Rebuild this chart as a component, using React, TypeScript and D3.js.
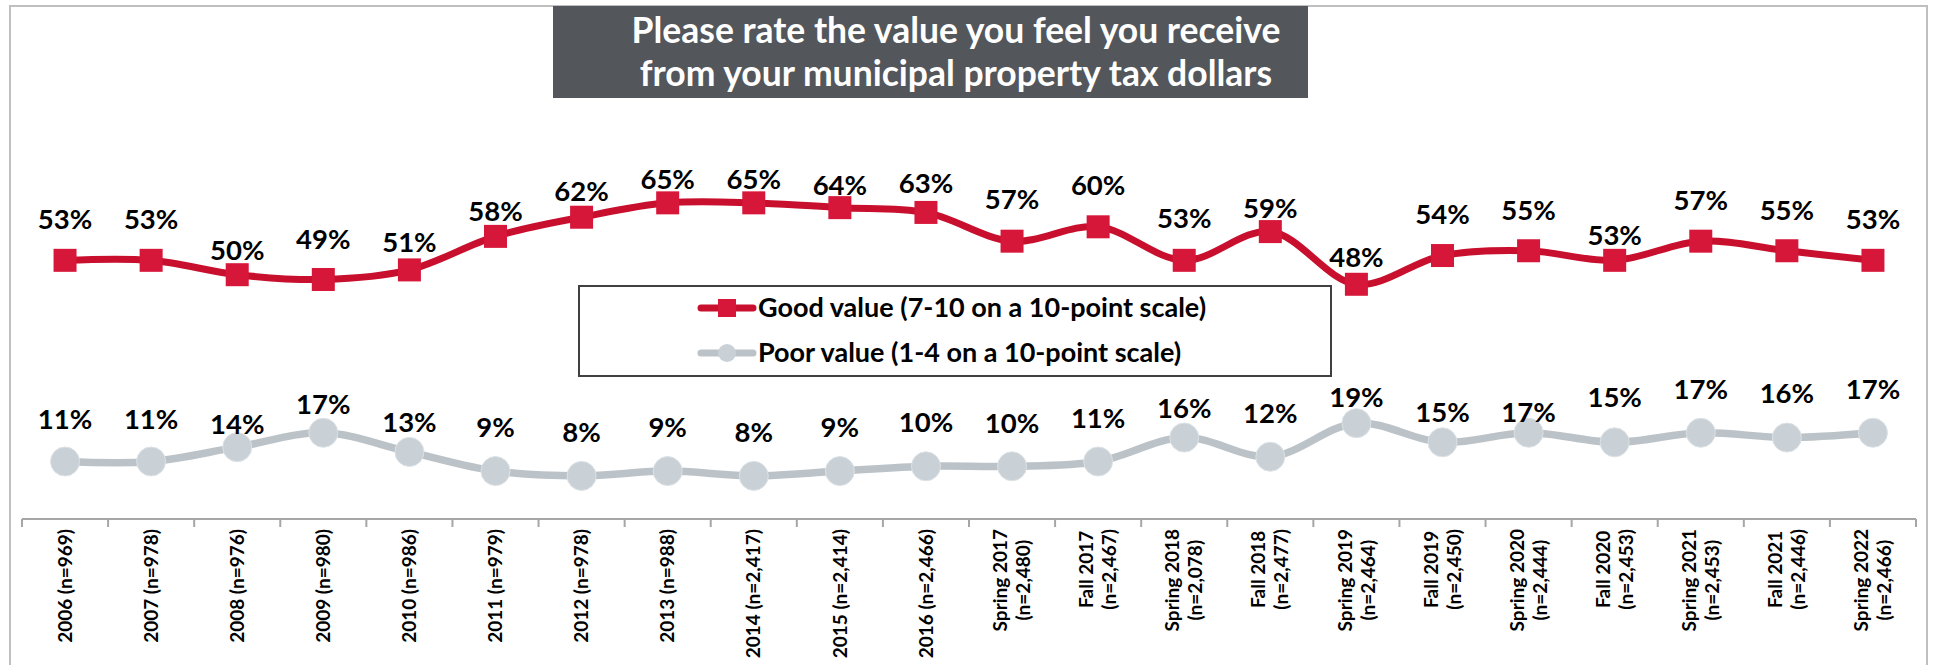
import React, { useEffect, useRef } from "react";
import * as d3 from "d3";

const titleLines = [
  "Please rate the value you feel you receive",
  "from your municipal property tax dollars",
];

const categories = [
  "2006 (n=969)",
  "2007 (n=978)",
  "2008 (n=976)",
  "2009 (n=980)",
  "2010 (n=986)",
  "2011 (n=979)",
  "2012 (n=978)",
  "2013 (n=988)",
  "2014 (n=2,417)",
  "2015 (n=2,414)",
  "2016 (n=2,466)",
  "Spring 2017\n(n=2,480)",
  "Fall 2017\n(n=2,467)",
  "Spring 2018\n(n=2,078)",
  "Fall 2018\n(n=2,477)",
  "Spring 2019\n(n=2,464)",
  "Fall 2019\n(n=2,450)",
  "Spring 2020\n(n=2,444)",
  "Fall 2020\n(n=2,453)",
  "Spring 2021\n(n=2,453)",
  "Fall 2021\n(n=2,446)",
  "Spring 2022\n(n=2,466)",
];

const goodValues = [53, 53, 50, 49, 51, 58, 62, 65, 65, 64, 63, 57, 60, 53, 59, 48, 54, 55, 53, 57, 55, 53];
const poorValues = [11, 11, 14, 17, 13, 9, 8, 9, 8, 9, 10, 10, 11, 16, 12, 19, 15, 17, 15, 17, 16, 17];

// label nudges (baseline offset from the point, px)
const goodLabelDy = [-31, -31, -15, -30, -18, -15, -16, -14, -14, -13, -19, -32, -32, -32, -14, -17, -32, -31, -15, -31, -31, -31];
const poorLabelDy = [-33, -33, -13, -19, -20, -34, -34, -34, -34, -34, -34, -33, -34, -20, -34, -16, -20, -11, -35, -34, -35, -34];

const seriesNames = [
  "Good value (7-10 on a 10-point scale)",
  "Poor value (1-4 on a 10-point scale)",
];

const W = 1935;
const H = 665;
const FONT = "Lato, 'Open Sans', sans-serif";

export default function App() {
  const ref = useRef<SVGSVGElement | null>(null);

  useEffect(() => {
    const svg = d3.select(ref.current);
    svg.selectAll("*").remove();

    const x = d3.scaleBand<string>().domain(categories).range([22, 1916]).padding(0);
    const cx = (i: number) => (x(categories[i]) as number) + x.bandwidth() / 2;
    const y = d3.scaleLinear().domain([0, 100]).range([514.2, 35.2]);
    const axisY = 519;

    // frame
    svg
      .append("path")
      .attr("d", `M10,${H + 5} L10,6 L1927,6 L1927,${H + 5}`)
      .attr("fill", "none")
      .attr("stroke", "#BFBFBF")
      .attr("stroke-width", 2);

    // title box
    svg.append("rect").attr("x", 553).attr("y", 6).attr("width", 755).attr("height", 92).attr("fill", "#53565B");
    const tt = svg
      .append("text")
      .attr("text-anchor", "middle")
      .attr("fill", "#FFFFFF")
      .attr("font-family", FONT)
      .attr("font-weight", 700)
      .attr("font-size", 35.5);
    titleLines.forEach((t, i) => {
      tt.append("tspan").attr("x", 956).attr("y", 43 + i * 43).text(t);
    });

    // x axis
    svg
      .append("line")
      .attr("x1", 22)
      .attr("x2", 1916)
      .attr("y1", axisY)
      .attr("y2", axisY)
      .attr("stroke", "#A6A6A6")
      .attr("stroke-width", 2);
    const tickXs = categories.map((c) => x(c) as number).concat([1916]);
    svg
      .selectAll("line.tick")
      .data(tickXs)
      .join("line")
      .attr("class", "tick")
      .attr("x1", (d) => d)
      .attr("x2", (d) => d)
      .attr("y1", axisY)
      .attr("y2", axisY + 8)
      .attr("stroke", "#A6A6A6")
      .attr("stroke-width", 2);

    // category labels (rotated)
    const fs = 19;
    const lh = 23;
    categories.forEach((c, i) => {
      const lines = c.split("\n");
      const g = svg.append("g");
      const t = g
        .append("text")
        .attr("text-anchor", "middle")
        .attr("font-family", FONT)
        .attr("font-weight", 700)
        .attr("font-size", fs)
        .attr("fill", "#000");
      const n = lines.length;
      const spans = lines.map((l, k) =>
        t
          .append("tspan")
          .attr("x", 0)
          .attr("y", (k - (n - 1) / 2) * lh + fs * 0.35)
          .text(l)
      );
      const maxLen = d3.max(spans.map((s) => (s.node() as SVGTextContentElement).getComputedTextLength())) || 0;
      g.attr("transform", `translate(${cx(i)},${529 + maxLen / 2}) rotate(-90)`);
    });

    // lines
    const line = d3
      .line<number>()
      .x((_, i) => cx(i))
      .y((d) => y(d))
      .curve(d3.curveCatmullRom.alpha(0.5));

    svg
      .append("path")
      .attr("d", line(poorValues) as string)
      .attr("fill", "none")
      .attr("stroke", "#BCC3C8")
      .attr("stroke-width", 7.5)
      .attr("stroke-linecap", "round");
    svg
      .append("path")
      .attr("d", line(goodValues) as string)
      .attr("fill", "none")
      .attr("stroke", "#C8102E")
      .attr("stroke-width", 7)
      .attr("stroke-linecap", "round");

    // markers
    svg
      .selectAll("circle.poor")
      .data(poorValues)
      .join("circle")
      .attr("class", "poor")
      .attr("cx", (_, i) => cx(i))
      .attr("cy", (d) => y(d))
      .attr("r", 14.5)
      .attr("fill", "#C9D1D7")
      .attr("stroke", "#DCE2E6")
      .attr("stroke-width", 1);
    const sq = 23;
    svg
      .selectAll("rect.good")
      .data(goodValues)
      .join("rect")
      .attr("class", "good")
      .attr("x", (_, i) => cx(i) - sq / 2)
      .attr("y", (d) => y(d) - sq / 2)
      .attr("width", sq)
      .attr("height", sq)
      .attr("fill", "#D7173A");

    // data labels
    const lbl = (vals: number[], dys: number[], cls: string) =>
      svg
        .selectAll(`text.${cls}`)
        .data(vals)
        .join("text")
        .attr("class", cls)
        .attr("x", (_, i) => cx(i))
        .attr("y", (d, i) => y(d) + dys[i])
        .attr("text-anchor", "middle")
        .attr("font-family", FONT)
        .attr("font-weight", 700)
        .attr("font-size", 27.5)
        .attr("fill", "#000")
        .text((d) => `${d}%`);
    lbl(goodValues, goodLabelDy, "glbl");
    lbl(poorValues, poorLabelDy, "plbl");

    // legend
    const lg = svg.append("g");
    lg.append("rect")
      .attr("x", 579)
      .attr("y", 286)
      .attr("width", 752)
      .attr("height", 90)
      .attr("fill", "#FFFFFF")
      .attr("stroke", "#404040")
      .attr("stroke-width", 2);
    const rows = [308, 353];
    rows.forEach((ry, k) => {
      lg.append("line")
        .attr("x1", 701)
        .attr("x2", 753)
        .attr("y1", ry)
        .attr("y2", ry)
        .attr("stroke", k === 0 ? "#C8102E" : "#BCC3C8")
        .attr("stroke-width", 7)
        .attr("stroke-linecap", "round");
      if (k === 0) {
        lg.append("rect").attr("x", 727 - 9).attr("y", ry - 9).attr("width", 18).attr("height", 18).attr("fill", "#D7173A");
      } else {
        lg.append("circle").attr("cx", 727).attr("cy", ry).attr("r", 9).attr("fill", "#C9D1D7");
      }
      lg.append("text")
        .attr("x", 758)
        .attr("y", ry + 9)
        .attr("font-family", FONT)
        .attr("font-weight", 700)
        .attr("font-size", 27)
        .attr("fill", "#000")
        .text(seriesNames[k]);
    });
  }, []);

  return (
    <div style={{ position: "absolute", left: 0, top: 0, width: W, height: H, background: "#fff" }}>
      <svg ref={ref} width={W} height={H} style={{ display: "block" }} />
    </div>
  );
}
